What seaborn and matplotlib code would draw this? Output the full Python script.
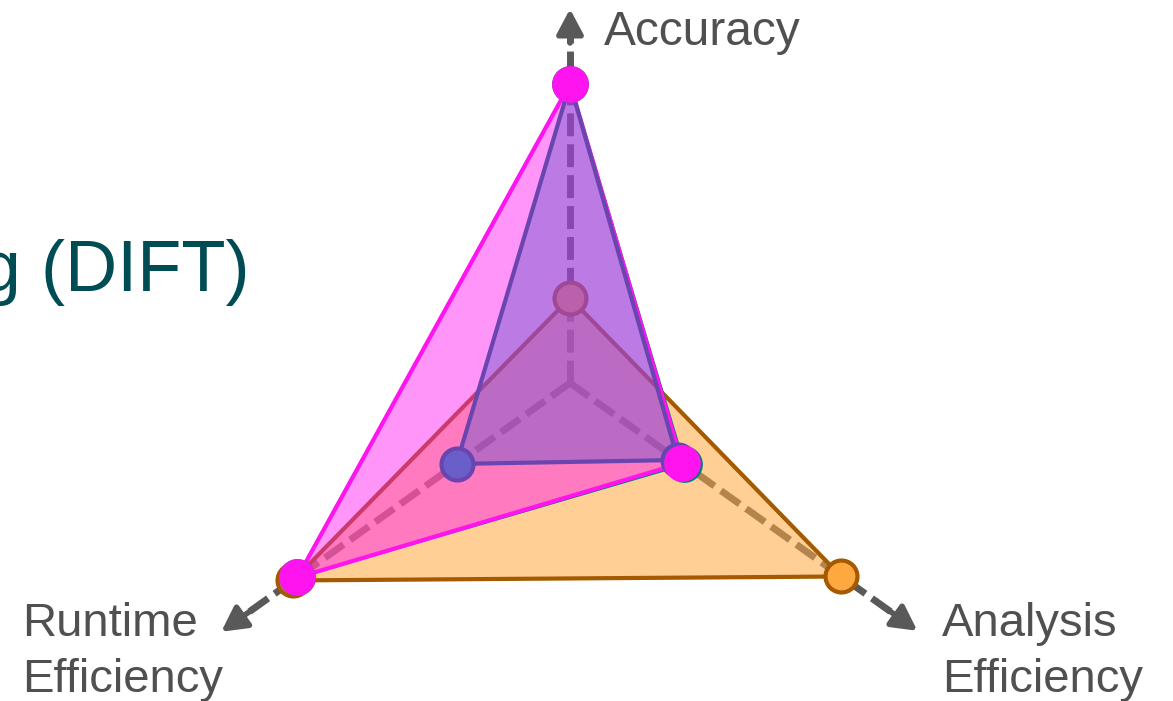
import numpy as np
import matplotlib
matplotlib.use("Agg")
import matplotlib.pyplot as plt
import seaborn as sns

# three axes of the radar, values as fractions of the full scale
axis_labels = ["Accuracy", "Runtime\nEfficiency", "Analysis\nEfficiency"]
axis_angles = [90, 215.5, 324.5]
axis_length = [1.10, 1.26, 1.255]

orange_vals = [0.25, 1.0, 0.98]
teal_vals = [0.88, 0.985, 0.412]
pink_vals = [0.88, 0.985, 0.405]
purple_vals = [0.88, 0.41, 0.39]

title = "Dynamic Information Flow Tracking (DIFT)"

sns.set_theme(style="white")
plt.rcParams["font.family"] = ["Liberation Sans", "DejaVu Sans"]

W, H = 1173, 701
fig = plt.figure(figsize=(W / 100, H / 100), dpi=100)
fig.patch.set_facecolor("white")

cx, cy = 570, H - 383
rmax = 1.3
R = rmax * 340
ax = fig.add_axes([(cx - R) / W, (cy - R) / H, 2 * R / W, 2 * R / H], projection="polar")
ax.set_ylim(0, rmax)
ax.set_axis_off()

theta = np.deg2rad(axis_angles)
gray = "#595959"

# dashed axes with arrow heads
for t, L in zip(theta, axis_length):
    ax.plot([t, t], [0, L - 0.06], color=gray, lw=5, linestyle=(0, (3.3, 1.15)),
            dash_capstyle="butt", zorder=1)
    ax.annotate("", xy=(t, L), xytext=(t, L - 0.1),
                arrowprops=dict(arrowstyle="-|>,head_length=0.75,head_width=0.4",
                                color=gray, lw=4, shrinkA=0, shrinkB=0,
                                mutation_scale=20),
                zorder=1)


def closed(v):
    return np.append(theta, theta[0]), np.append(v, v[0])


# orange series
tt, rr = closed(orange_vals)
ax.fill(tt, rr, color="#FFA840", alpha=0.55, lw=0, zorder=2)
ax.plot(tt, rr, color="#A35A00", lw=3, zorder=2.1)
sns.scatterplot(x=theta, y=orange_vals, ax=ax, s=529, color="#FFA840",
                edgecolor="#A35A00", linewidth=3, zorder=2.2, legend=False)

# teal series, mostly hidden under pink
tt, rr = closed(teal_vals)
ax.plot(tt, rr, color="#007B80", lw=2, zorder=3)

# pink series
tt, rr = closed(pink_vals)
ax.fill(tt, rr, color="#FF14F0", alpha=0.45, lw=0, zorder=4)
ax.plot(tt, rr, color="#FF14F0", lw=3, zorder=4.1)

# purple series
tt, rr = closed(purple_vals)
ax.fill(tt, rr, color="#6A5ACD", alpha=0.45, lw=0, zorder=5)
ax.plot(tt, rr, color="#6A45B0", lw=3, zorder=5.1)
sns.scatterplot(x=theta, y=purple_vals, ax=ax, s=529, color="#6A5FC8",
                edgecolor="#6A45B0", linewidth=3, zorder=5.2, legend=False)

sns.scatterplot(x=theta, y=teal_vals, ax=ax, s=700, color="#007B80",
                linewidth=0, zorder=5.6, legend=False)
sns.scatterplot(x=theta, y=pink_vals, ax=ax, s=700, color="#FF14F0",
                linewidth=0, zorder=6, legend=False)
ax.set_xlabel("")
ax.set_ylabel("")

# axis labels
label_color = "#505050"
fig.text(604 / W, 1 - 45 / H, axis_labels[0], fontsize=34.5, color=label_color, va="baseline")
fig.text(22 / W, 1 - 692 / H, axis_labels[1], fontsize=34, color=label_color,
         va="baseline", linespacing=1.36)
fig.text(942 / W, 1 - 692 / H, axis_labels[2], fontsize=34, color=label_color,
         va="baseline", linespacing=1.36)

fig.text(250 / W, 1 - 291 / H, title, fontsize=52, color="#004C54", ha="right", va="baseline")

fig.savefig("out.png", dpi=100, facecolor="white")
